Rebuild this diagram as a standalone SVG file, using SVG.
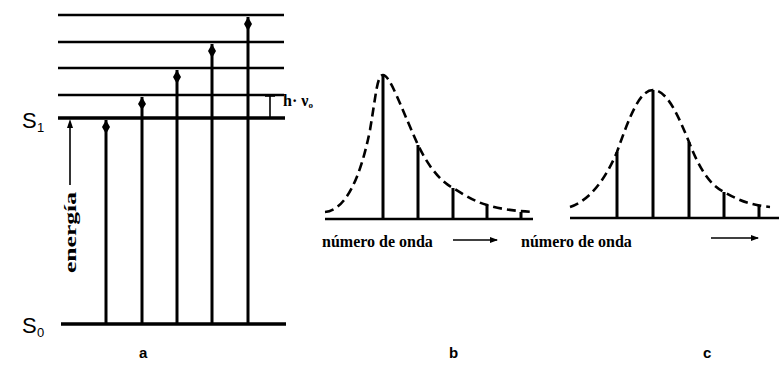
<svg xmlns="http://www.w3.org/2000/svg" width="779" height="377" viewBox="0 0 779 377">
<style>
.lvl{stroke:#000;stroke-width:2.5;fill:none}
.thick{stroke:#000;stroke-width:3.5;fill:none}
.vert{stroke:#000;stroke-width:3;fill:none}
.thin{stroke:#000;stroke-width:1.6;fill:none}
.dash{stroke:#000;stroke-width:2.6;fill:none;stroke-dasharray:9 5}
.head{fill:#000}
.lbl{font-family:"Liberation Serif",serif;font-weight:bold;font-size:16px;fill:#000}
.sans{font-family:"Liberation Sans",sans-serif;font-size:22px;fill:#000}
.sub{font-family:"Liberation Sans",sans-serif;font-size:13px;fill:#000}
.pl{font-family:"Liberation Sans",sans-serif;font-size:15px;font-weight:bold;fill:#000}
</style>
<defs>
<marker id="ah" markerWidth="8" markerHeight="6" refX="7" refY="3" orient="auto" markerUnits="userSpaceOnUse">
<path d="M0,0 L8,3 L0,6 Z" fill="#000"/>
</marker>
</defs>
<g id="panel-a">
<g id="levels">
<line class="lvl" x1="58" y1="15" x2="284" y2="15"/>
<line class="lvl" x1="58" y1="42" x2="284" y2="42"/>
<line class="lvl" x1="58" y1="68" x2="284" y2="68"/>
<line class="lvl" x1="58" y1="95" x2="284" y2="95"/>
<line class="thick" x1="58" y1="118" x2="285" y2="118"/>
<line class="thick" x1="61" y1="324" x2="286" y2="324"/>
</g>
<g id="labels-a">
<text class="sans" x="22" y="128">S</text><text class="sub" x="37" y="132">1</text>
<text class="sans" x="22" y="333">S</text><text class="sub" x="37" y="337">0</text>
<text class="pl" x="139" y="358">a</text>
</g>
<g id="hv">
<line class="thin" x1="270" y1="95" x2="270" y2="118"/>
<line class="thin" x1="265" y1="96" x2="275" y2="96"/>
<text class="lbl" x="283" y="106" font-size="12">h· ν<tspan font-size="9" dy="2">o</tspan></text>
</g>
<g id="energia">
<line class="thin" x1="70" y1="185" x2="70" y2="125"/>
<path class="head" d="M70,119 L73,128 L67,128 Z"/>
<text class="lbl" font-size="18" transform="translate(76,273) rotate(-90)" x="0" y="0" textLength="81" lengthAdjust="spacingAndGlyphs">energía</text>
</g>
<g id="arrows">
<line class="vert" x1="106" y1="324" x2="106" y2="120"/>
<path class="head" d="M106,120 L110,127 L106,134 L102,127 Z"/>
<line class="vert" x1="142" y1="324" x2="142" y2="97"/>
<path class="head" d="M142,97 L146,104 L142,110 L138,104 Z"/>
<line class="vert" x1="177" y1="324" x2="177" y2="70"/>
<path class="head" d="M177,70 L181,77 L177,84 L173,77 Z"/>
<line class="vert" x1="212" y1="324" x2="212" y2="44"/>
<path class="head" d="M212,44 L216,51 L212,58 L208,51 Z"/>
<line class="vert" x1="248" y1="324" x2="248" y2="17"/>
<path class="head" d="M248,17 L252,24 L248,31 L244,24 Z"/>
</g>
</g>
<g id="panel-b">
<line class="lvl" x1="325" y1="219" x2="533" y2="219"/>
<path class="dash" d="M325,212 C345,210 360,180 370,130 C376,95 377,75 383,75 C390,75 400,105 418,145 C430,170 443,183 453,188 C466,196 476,202 487,205 C500,209 515,211 533,212"/>
<line class="vert" x1="383" y1="219" x2="383" y2="76"/>
<line class="vert" x1="418" y1="219" x2="418" y2="145"/>
<line class="vert" x1="453" y1="219" x2="453" y2="188"/>
<line class="vert" x1="487" y1="219" x2="487" y2="205"/>
<line class="vert" x1="521" y1="219" x2="521" y2="212"/>
<text class="lbl" x="322" y="247">número de onda</text>
<line class="thin" x1="453" y1="240" x2="497" y2="240" marker-end="url(#ah)"/>
<text class="pl" x="449" y="358">b</text>
</g>
<g id="panel-c">
<line class="lvl" x1="570" y1="218" x2="779" y2="218"/>
<path class="dash" d="M570,207 C590,200 605,180 617,152 C630,115 640,90 653,90 C667,90 678,115 689,142 C700,170 710,185 724,192 C738,200 750,205 770,207"/>
<line class="vert" x1="617" y1="218" x2="617" y2="152"/>
<line class="vert" x1="653" y1="218" x2="653" y2="90"/>
<line class="vert" x1="689" y1="218" x2="689" y2="142"/>
<line class="vert" x1="724" y1="218" x2="724" y2="192"/>
<line class="vert" x1="759" y1="218" x2="759" y2="206"/>
<text class="lbl" x="521" y="247">número de onda</text>
<line class="thin" x1="711" y1="238" x2="758" y2="238" marker-end="url(#ah)"/>
<text class="pl" x="703" y="358">c</text>
</g>
</svg>
